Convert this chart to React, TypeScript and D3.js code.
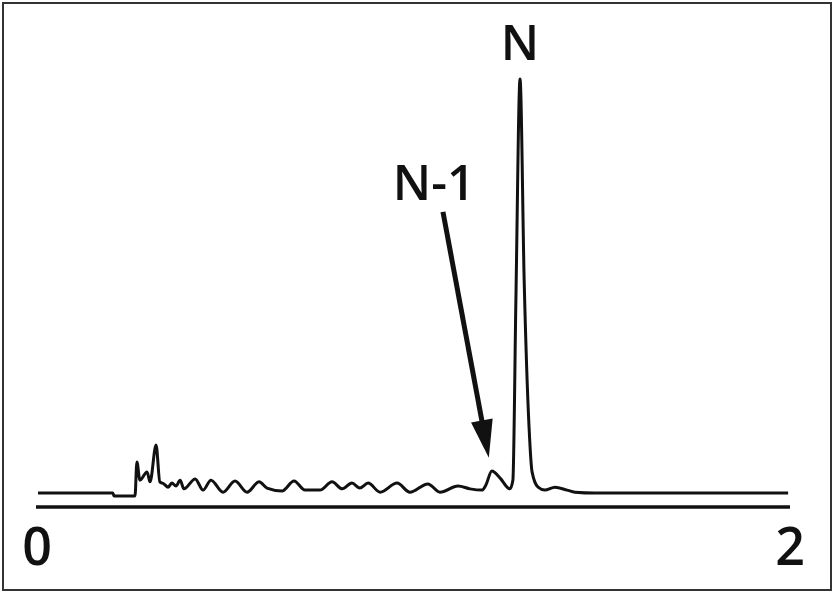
import React from 'react';
import * as d3 from 'd3';

// trace: x in axis units (0..2), signal relative to main peak = 100
const traceX = [
  0, 0.199, 0.202, 0.258, 0.263, 0.271, 0.29, 0.298, 0.314, 0.324, 0.335, 0.346, 0.356, 0.367,
  0.378, 0.388, 0.418, 0.439, 0.46, 0.492, 0.524, 0.556, 0.588, 0.609, 0.649, 0.681, 0.71, 0.75,
  0.782, 0.809, 0.835, 0.856, 0.878, 0.91, 0.955, 0.989, 1.037, 1.069, 1.117, 1.149, 1.181, 1.191,
  1.207, 1.229, 1.255, 1.263, 1.271, 1.282, 1.293, 1.306, 1.314, 1.33, 1.348, 1.375, 1.407, 1.428,
  1.481, 1.995,
];
const traceY = [
  0, 0, -0.7, -0.7, 7.5, 3.1, 5.1, 2.7, 11.6, 2.7, 2.2, 1.4, 2.4, 1.7,
  3.1, 1.0, 3.4, 0.7, 3.1, 0.2, 2.9, 0.2, 2.7, 1.2, 0.5, 2.9, 0.7, 0.7,
  2.7, 1.0, 2.4, 1.2, 2.4, 0.2, 2.4, 0.2, 2.2, 0.2, 1.7, 1.0, 0.7, 1.9,
  5.3, 3.6, 1.0, 3.1, 46.6, 100, 51.4, 15.9, 5.1, 1.4, 0.7, 1.4, 0.7, 0.2,
  0, 0,
];
const tickLabels = ['0', '2'];
const tickValues = [0, 2];

// annotations
const peakN = { label: 'N', x: 1.282, y: 100 };
const peakN1 = { label: 'N-1', from: [1.077, 67.9], to: [1.199, 8.5] };

const W = 836;
const H = 593;
const font = "'Open Sans', 'DejaVu Sans', sans-serif";

export default function App() {
  const x = d3.scaleLinear().domain([0, 2]).range([38, 790]);
  const y = d3.scaleLinear().domain([0, 100]).range([493, 79]);

  const pts = traceX.map((v, i) => [v, traceY[i]] as [number, number]);
  const line = d3
    .line<[number, number]>()
    .x((d) => x(d[0]))
    .y((d) => y(d[1]))
    .curve(d3.curveMonotoneX);

  // arrow geometry
  const x0 = x(peakN1.from[0]);
  const y0 = y(peakN1.from[1]);
  const x1 = x(peakN1.to[0]);
  const y1 = y(peakN1.to[1]);
  const len = Math.hypot(x1 - x0, y1 - y0);
  const ux = (x1 - x0) / len;
  const uy = (y1 - y0) / len;
  const headLen = 38;
  const headW = 11;
  const bx = x1 - ux * headLen;
  const by = y1 - uy * headLen;
  const head = [
    [x1, y1],
    [bx - uy * headW, by + ux * headW],
    [bx + uy * headW, by - ux * headW],
  ];

  return (
    <svg
      width={W}
      height={H}
      style={{ position: 'absolute', left: 0, top: 0, background: '#fff' }}
    >
      <rect x={3} y={3} width={828} height={587} fill="#fff" stroke="#333" strokeWidth={2} />

      <line x1={36} x2={790} y1={507} y2={507} stroke="#111" strokeWidth={3.5} />

      <path d={line(pts) ?? ''} fill="none" stroke="#111" strokeWidth={3} strokeLinejoin="round" />

      {tickValues.map((t, i) => (
        <text
          key={t}
          x={x(t) - (i === 0 ? 1 : 0)}
          y={565}
          textAnchor="middle"
          fontFamily={font}
          fontSize={52}
          fontWeight={600}
          fill="#111"
        >
          {tickLabels[i]}
        </text>
      ))}

      <text
        x={x(peakN.x)}
        y={y(peakN.y) - 19}
        textAnchor="middle"
        fontFamily={font}
        fontSize={49}
        fontWeight={600}
        fill="#111"
      >
        {peakN.label}
      </text>

      <line
        x1={x0}
        y1={y0}
        x2={bx + ux * 2}
        y2={by + uy * 2}
        stroke="#111"
        strokeWidth={5}
      />
      <polygon points={head.map((p) => p.join(',')).join(' ')} fill="#111" />
      <text
        x={x0 - 9}
        y={y0 - 12}
        textAnchor="middle"
        fontFamily={font}
        fontSize={49}
        fontWeight={600}
        fill="#111"
      >
        {peakN1.label}
      </text>
    </svg>
  );
}
